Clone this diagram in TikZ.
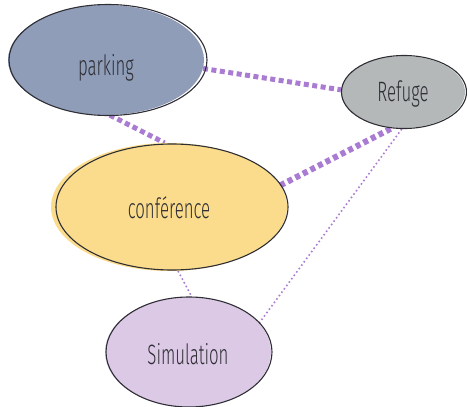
\documentclass[tikz,border=0pt]{standalone}
\usepackage{fontspec}
\newfontfamily\hand[FakeStretch=0.6]{Fira Sans Light}
\usetikzlibrary{shapes.geometric,backgrounds}
\definecolor{linkpurple}{HTML}{A97BD2}
\definecolor{parkfill}{HTML}{8F9DB9}
\definecolor{refugefill}{HTML}{B4B8B9}
\definecolor{conffill}{HTML}{FBDC8C}
\definecolor{simfill}{HTML}{DCC9E6}
\definecolor{inkgray}{HTML}{2E2E34}
% lower a label without changing the box size used for centring
\newcommand{\dropby}[2]{\raisebox{-#1}[\height][\depth]{#2}}
\tikzset{
  bubble/.style={ellipse, inner sep=0pt, font=\hand\fontsize{28}{32}\selectfont, text=inkgray},
  rim/.style={draw=inkgray, line width=1.1pt},
  strong/.style={draw=linkpurple, line width=5pt, dash pattern=on 5pt off 3.5pt},
  stronger/.style={draw=linkpurple, line width=6pt, dash pattern=on 5pt off 3.5pt},
  weak/.style={draw=linkpurple, line width=1.6pt, dash pattern=on 1.6pt off 2.6pt},
}
\begin{document}
\begin{tikzpicture}[x=1pt,y=-1pt]
\useasboundingbox (0,0) rectangle (467,407);
% bubbles: a filled ellipse with a slightly shifted hand-drawn rim
\node[bubble, fill=parkfill, minimum width=196pt, minimum height=110pt] (parking) at (106,60) {\dropby{8pt}{parking}};
\draw[rim] (108,60) ellipse [x radius=99, y radius=55.5];
\node[bubble, fill=refugefill, minimum width=124pt, minimum height=72pt] (refuge) at (403,92) {\dropby{2pt}{Refuge}};
\draw[rim] (404,92) ellipse [x radius=62.5, y radius=36.5];
\node[bubble, fill=conffill, minimum width=236pt, minimum height=128pt] (conf) at (169,207) {\dropby{1pt}{conférence}};
\draw[rim] (172,207) ellipse [x radius=116, y radius=63];
\node[bubble, fill=simfill, minimum width=166pt, minimum height=110pt] (sim) at (188,352) {\dropby{2pt}{Simulation}};
\draw[rim] (189,352) ellipse [x radius=83, y radius=55];
% links, attached at chosen points of the rims
\begin{scope}[on background layer]
\draw[strong] (parking.-5) -- (refuge.178);
\draw[strong] (parking.-86) -- (conf.94);
\draw[stronger] (conf.11) -- (refuge.-106);
\draw[weak] (conf.-82) -- (sim.86);
\draw[weak] (sim.22) -- (refuge.-91);
\end{scope}
\end{tikzpicture}
\end{document}
